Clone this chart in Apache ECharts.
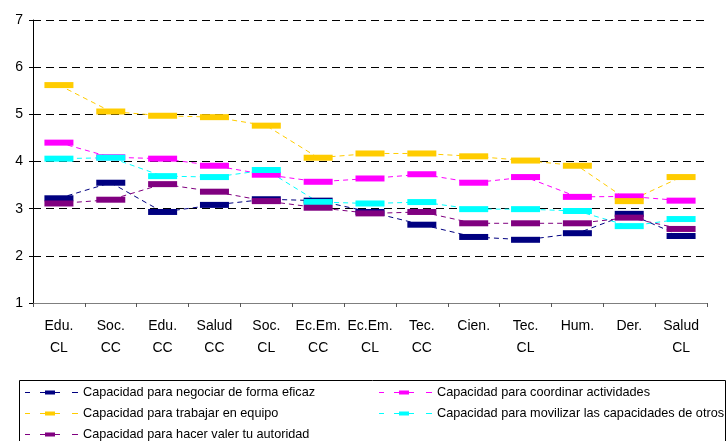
<!DOCTYPE html>
<html>
<head>
<meta charset="utf-8">
<script src="https://cdn.jsdelivr.net/npm/echarts@6/dist/echarts.min.js"></script>
<style>
html,body{margin:0;padding:0;background:#fff;}
#chart{width:728px;height:441px;}
</style>
</head>
<body>
<div id="chart"></div>
<script>
var categories = ['Edu.\nCL','Soc.\nCC','Edu.\nCC','Salud\nCC','Soc.\nCL','Ec.Em.\nCC','Ec.Em.\nCL','Tec.\nCC','Cien.','Tec.\nCL','Hum.','Der.','Salud\nCL'];
var seriesNames = [
  'Capacidad para negociar de forma eficaz',
  'Capacidad para coordinar actividades',
  'Capacidad para trabajar en equipo',
  'Capacidad para movilizar las capacidades de otros',
  'Capacidad para hacer valer tu autoridad'
];
var negociar   = [3.22, 3.55, 2.93, 3.08, 3.20, 3.17, 2.93, 2.66, 2.40, 2.34, 2.48, 2.89, 2.42];
var coordinar  = [4.40, 4.09, 4.06, 3.91, 3.72, 3.57, 3.64, 3.73, 3.55, 3.67, 3.25, 3.26, 3.17];
var equipo     = [5.62, 5.06, 4.97, 4.94, 4.76, 4.08, 4.17, 4.17, 4.11, 4.02, 3.91, 3.16, 3.67];
var movilizar  = [4.06, 4.08, 3.69, 3.67, 3.82, 3.14, 3.11, 3.14, 2.99, 2.99, 2.95, 2.63, 2.78];
var autoridad  = [3.11, 3.19, 3.52, 3.36, 3.16, 3.02, 2.90, 2.93, 2.69, 2.69, 2.69, 2.81, 2.57];
var colors = ['#000080', '#FF00FF', '#FFCC00', '#00FFFF', '#800080'];
var yTicks = {min: 1, max: 7, interval: 1};

var seriesData = [negociar, coordinar, equipo, movilizar, autoridad];
var FONT = '"Liberation Sans", Arial, sans-serif';
var iconPath = 'path://M0,1.5h5v1h-5z M15,1.5h5v1h-5z M20,0h10v4h-10z M30,1.5h5v1h-5z M47,1.5h6v1h-6z';

var series = seriesData.map(function (d, i) {
  return {
    name: seriesNames[i],
    type: 'line',
    data: d,
    symbol: 'rect',
    symbolSize: [29, 6],
    lineStyle: {color: colors[i], width: 1, type: [5, 4]},
    itemStyle: {color: colors[i]},
    emphasis: {disabled: true}
  };
});

var legendPos = [
  {left: 25, top: 386},
  {left: 379, top: 386},
  {left: 25, top: 407},
  {left: 379, top: 407},
  {left: 25, top: 428}
];
var legends = seriesNames.map(function (n, i) {
  return {
    data: [{name: n, icon: iconPath}],
    left: legendPos[i].left,
    top: legendPos[i].top,
    padding: 0,
    itemWidth: 53,
    itemHeight: 4,
    selectedMode: false,
    textStyle: {fontFamily: FONT, fontSize: 12.7, color: '#000'}
  };
});

var chart = echarts.init(document.getElementById('chart'), null, {renderer: 'canvas'});
chart.setOption({
  animation: false,
  backgroundColor: '#fff',
  color: colors,
  grid: {left: 33, right: 21, top: 20, bottom: 138, containLabel: false},
  legend: legends,
  graphic: [{
    type: 'rect',
    shape: {x: 19.5, y: 380.5, width: 706, height: 70},
    style: {fill: 'none', stroke: '#000', lineWidth: 1},
    silent: true
  }],
  xAxis: {
    type: 'category',
    data: categories,
    boundaryGap: true,
    axisLine: {lineStyle: {color: '#7f7f7f', width: 1}},
    axisTick: {show: true, length: 4, lineStyle: {color: '#555'}},
    axisLabel: {fontFamily: FONT, fontSize: 14, color: '#000', lineHeight: 22, margin: 12, interval: 0}
  },
  yAxis: {
    type: 'value',
    min: yTicks.min,
    max: yTicks.max,
    interval: yTicks.interval,
    axisLine: {show: true, lineStyle: {color: '#000', width: 1}},
    axisTick: {show: true, length: 4, lineStyle: {color: '#000'}},
    axisLabel: {fontFamily: FONT, fontSize: 14, color: '#000', margin: 10},
    splitLine: {show: true, lineStyle: {color: '#000', width: 1, type: [8, 5]}}
  },
  series: series
});
</script>
</body>
</html>
